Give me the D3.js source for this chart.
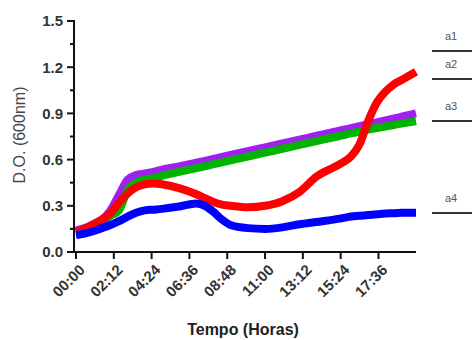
<!DOCTYPE html>
<html><head><meta charset="utf-8">
<script src="https://cdn.jsdelivr.net/npm/d3@7"></script>
<style>body{margin:0;background:#fff}svg{display:block}</style>
</head><body>
<svg id="c" width="472" height="340"></svg>
<script>
const times = [0,30,60,90,120,150,180,210,240,270,300,360,420,450,480,510,540,600,660,720,780,840,900,930,960,990,1020,1050,1080,1110,1140,1187];
const purple = [0.14,0.155,0.18,0.21,0.27,0.37,0.47,0.50,0.51,0.52,0.535,0.555,0.58,0.592,0.605,0.617,0.63,0.655,0.68,0.705,0.73,0.755,0.78,0.792,0.805,0.817,0.83,0.842,0.855,0.867,0.88,0.9];
const green  = [0.13,0.145,0.17,0.2,0.235,0.27,0.40,0.45,0.47,0.48,0.495,0.52,0.545,0.557,0.57,0.582,0.595,0.62,0.645,0.67,0.695,0.72,0.745,0.757,0.77,0.782,0.795,0.805,0.815,0.825,0.835,0.85];
const red    = [0.13,0.15,0.18,0.21,0.25,0.32,0.38,0.42,0.44,0.445,0.44,0.415,0.375,0.35,0.325,0.308,0.30,0.29,0.30,0.33,0.39,0.49,0.55,0.58,0.62,0.70,0.85,0.97,1.04,1.09,1.12,1.17];
const blue   = [0.11,0.12,0.135,0.155,0.175,0.2,0.23,0.255,0.27,0.275,0.28,0.295,0.315,0.30,0.26,0.21,0.175,0.155,0.15,0.16,0.18,0.195,0.21,0.22,0.23,0.235,0.24,0.245,0.25,0.252,0.255,0.255];
const seriesNames = ["a1","a2","a3","a4"];
const seriesColors = ["#a020f0","#00b400","#ff0000","#0000ff"];
const xTickValues = [0,132,264,396,528,660,792,924,1056];
const xTickLabels = ["00:00","02:12","04:24","06:36","08:48","11:00","13:12","15:24","17:36"];
const yTickValues = [0,0.3,0.6,0.9,1.2,1.5];
const yTickLabels = ["0.0","0.3","0.6","0.9","1.2","1.5"];
const legendY = [51,79,121,213];

const svg = d3.select("#c");
const x = d3.scaleLinear().domain([0,1187]).range([76,416]);
const y = d3.scaleLinear().domain([0,1.5]).range([252,21]);

// series
const data = [purple, green, red, blue];
const line = d3.line().x((d,i)=>x(times[i])).y(d=>y(d)).curve(d3.curveMonotoneX);
data.forEach((s,k)=>{
  svg.append("path").attr("d", line(s)).attr("fill","none")
    .attr("stroke", seriesColors[k]).attr("stroke-width",8).attr("stroke-linejoin","round");
});

// y axis
const yAxis = svg.append("g");
yAxis.append("line").attr("x1",74).attr("x2",74).attr("y1",y(1.5)-1).attr("y2",253).attr("stroke","#111").attr("stroke-width",2);
yTickValues.forEach((v,i)=>{
  yAxis.append("line").attr("x1",67).attr("x2",74).attr("y1",y(v)).attr("y2",y(v)).attr("stroke","#111").attr("stroke-width",2);
  yAxis.append("text").attr("x",63).attr("y",y(v)).attr("dy","0.36em").attr("text-anchor","end")
    .attr("font-family","Liberation Sans, Arial, sans-serif").attr("font-weight","bold").attr("font-size",15).attr("fill","#333")
    .text(yTickLabels[i]);
});
d3.range(0.15,1.5,0.3).forEach(v=>{
  yAxis.append("line").attr("x1",70).attr("x2",74).attr("y1",y(v)).attr("y2",y(v)).attr("stroke","#111").attr("stroke-width",2);
});

// x axis
const xAxis = svg.append("g");
xAxis.append("line").attr("x1",73).attr("x2",416).attr("y1",252).attr("y2",252).attr("stroke","#111").attr("stroke-width",2);
xTickValues.forEach((v,i)=>{
  const px = x(v);
  xAxis.append("line").attr("x1",px).attr("x2",px).attr("y1",252).attr("y2",259).attr("stroke","#111").attr("stroke-width",2);
  xAxis.append("text").attr("transform",`translate(${px+6},${267}) rotate(-45)`).attr("text-anchor","end").attr("dy","0.36em")
    .attr("font-family","Liberation Sans, Arial, sans-serif").attr("font-weight","bold").attr("font-size",15).attr("fill","#333")
    .text(xTickLabels[i]);
});

// axis titles
svg.append("text").attr("x",243).attr("y",335).attr("text-anchor","middle")
  .attr("font-family","Liberation Sans, Arial, sans-serif").attr("font-weight","bold").attr("font-size",16).attr("fill","#222")
  .text("Tempo (Horas)");
svg.append("text").attr("transform","translate(25,135) rotate(-90)").attr("text-anchor","middle")
  .attr("font-family","Liberation Sans, Arial, sans-serif").attr("font-size",16).attr("fill","#444")
  .text("D.O. (600nm)");

// legend
seriesNames.forEach((n,i)=>{
  svg.append("line").attr("x1",432).attr("x2",472).attr("y1",legendY[i]).attr("y2",legendY[i]).attr("stroke","#333").attr("stroke-width",2);
  svg.append("text").attr("x",451).attr("y",legendY[i]-11).attr("text-anchor","middle")
    .attr("font-family","Liberation Sans, Arial, sans-serif").attr("font-size",11).attr("fill","#555").text(n);
});
</script>
</body></html>
